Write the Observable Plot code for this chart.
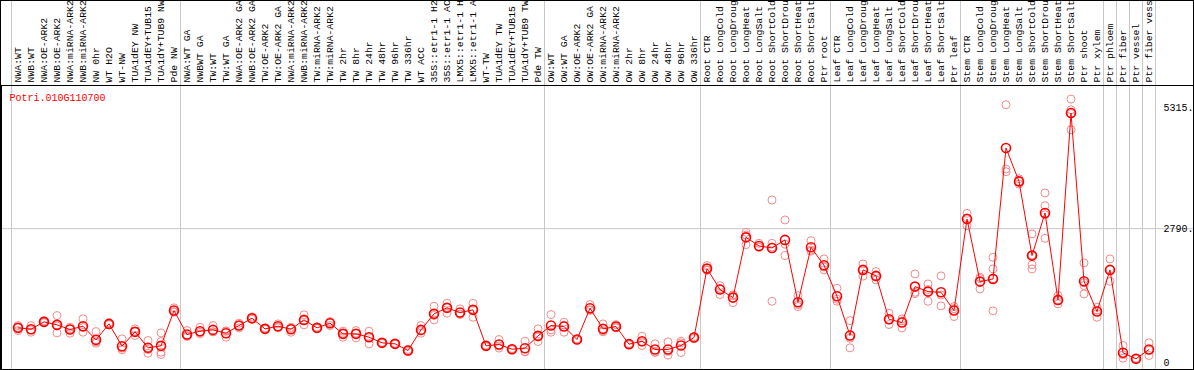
<!DOCTYPE html>
<html><head><meta charset="utf-8">
<script src="https://cdn.jsdelivr.net/npm/d3@7"></script>
<script src="https://cdn.jsdelivr.net/npm/@observablehq/plot@0.6"></script>
<style>
html,body{margin:0;padding:0;background:#fff;}
#wrap{position:relative;width:1194px;height:370px;overflow:hidden;}
#wrap svg{display:block;}
#border{position:absolute;left:0;top:0;width:1194px;height:370px;box-sizing:border-box;border:1px solid #000;pointer-events:none;}
</style></head><body><div id="wrap"><div id="border"></div></div>
<script>
const categories = [
  "NWA:WT","NWB:WT","NWA:OE-ARK2","NWB:OE-ARK2","NWA:miRNA-ARK2","NWB:miRNA-ARK2","NW 0hr","WT H2O","WT-NW","TUA1dEY NW","TUA1dEY+TUB15","TUA1dY+TUB9 NW","Pde NW",
  "NWA:WT GA","NWBWT GA","TW:WT","TW:WT GA","NWA:OE-ARK2 GA","NWB:OE-ARK2 GA","TW:OE-ARK2","TW:OE-ARK2 GA","NWA:miRNA-ARK2","NWB:miRNA-ARK2","TW:miRNA-ARK2","TW:miRNA-ARK2","TW 2hr","TW 8hr","TW 24hr","TW 48hr","TW 96hr","TW 336hr","WT ACC","35S::etr1-1 H2","35S::etr1-1 AC","LMX5::etr1-1 H","LMX5::etr1-1 A","WT-TW","TUA1dEY TW","TUA1dEY+TUB15","TUA1dY+TUB9 TW","Pde TW",
  "OW:WT","OW:WT GA","OW:OE-ARK2","OW:OE-ARK2 GA","OW:miRNA-ARK2","OW:miRNA-ARK2","OW 2hr","OW 8hr","OW 24hr","OW 48hr","OW 96hr","OW 336hr",
  "Root CTR","Root LongCold","Root LongDroug","Root LongHeat","Root LongSalt","Root ShortCold","Root ShortDrou","Root ShortHeat","Root ShortSalt","Ptr root",
  "Leaf CTR","Leaf LongCold","Leaf LongDroug","Leaf LongHeat","Leaf LongSalt","Leaf ShortCold","Leaf ShortDrou","Leaf ShortHeat","Leaf ShortSalt","Ptr leaf",
  "Stem CTR","Stem LongCold","Stem LongDroug","Stem LongHeat","Stem LongSalt","Stem ShortCold","Stem ShortDrou","Stem ShortHeat","Stem ShortSalt","Ptr shoot","Ptr xylem",
  "Ptr phloem","Ptr fiber","Ptr vessel","Ptr fiber vess"
];
const groupSizes = [13,28,12,10,10,11,1,1,1,1];
const means = [
  722,694,847,785,687,756,472,805,340,639,306,347,1083,
  583,652,680,611,770,923,701,756,694,888,722,819,597,597,527,410,389,250,680,1014,1139,1041,1097,347,375,277,298,555,
  770,750,479,1131,701,750,382,444,271,271,354,520,
  1957,1520,1353,2609,2429,2388,2555,1256,2401,2026,
  1381,562,1930,1805,902,833,1582,1478,1464,1083,
  2992,1686,1742,4470,3775,2228,3117,1305,5199,1693,1062,
  1930,202,77,271
];
const replicates = [
  [770,666,730],[770,631,680],[870,830,840],[978,618,760],[735,611,700],[910,631,730],[645,402,430],[830,790,800],[493,264,300],[701,562,650],[458,194,270],[618,437,215,167],[1139,1048,1060],
  [666,541,560],[735,597,630],[770,640,640],[527,650,660],[819,722,770],[950,900,920],[720,690,700],[805,722,740],[735,631,710],[993,785,880],[740,710,715],[854,770,830],[527,652,610],[666,513,610],[652,389,540],[420,400,410],[400,380,390],[270,230,250],[770,611,660],[1172,888,980],[1235,1027,1150],[1117,1013,1000],[1235,943,1110],[360,330,350],[479,300,345],[290,265,275],[444,229,220],[701,437,530],
  [999,631,680],[839,631,780],[490,470,480],[1208,1100,1085],[805,640,660],[790,720,740],[395,370,380],[548,354,430],[389,215,210],[430,153,230],[444,208,410],[540,500,520],
  [2020,1930,1920],[1603,1416,1540],[1249,1400,1410],[2713,2457,2657],[2484,2400,2403],[3387,1276,2484,2405],[2971,2228,2466],[1395,1166,1207],[2540,2320,2343],[2159,1930,1990],
  [1547,1276,1320],[874,306,506],[2055,1800,1935],[1895,1721,1800],[1027,791,888],[909,722,868],[1847,1464,1435],[1638,1276,1520],[1805,1180,1407],[1166,958,1125],
  [3109,2852,3015],[1776,1534,1748],[2193,1951,1076,1748],[5372,4033,3977],[3830,3720,3775],[2680,2040,1951,2240],[3533,3269,2588,3078],[1395,1222,1300],[5490,5268,4851,5190],[2076,1603,1430,1663],[1152,943,1090],
  [2159,1693,1940],[354,90,160],[90,70,72],[410,146,257]
];
const yTicks = [0, 2790, 5315];
const yTickLabels = ["0", "2790.", "5315."];
const geneId = "Potri.010G110700";

const rows = means.map((m, i) => ({i, cat: categories[i], mean: m}));
const repRows = replicates.flatMap((r, i) => r.map(v => ({i, v})));
let acc = 0;
const bounds = [-0.5];
for (const s of groupSizes) { acc += s; bounds.push(acc - 0.5); }

const chart = Plot.plot({
  width: 1194, height: 370,
  marginTop: 85, marginBottom: 1, marginLeft: 1, marginRight: 1,
  x: {type: "linear", domain: [-0.5, categories.length - 0.5], range: [11, 1155], axis: null},
  y: {type: "linear", domain: [0, 5315], range: [362, 107], axis: null},
  style: {background: "white", fontFamily: "Liberation Mono"},
  marks: [
    Plot.ruleY([2790], {stroke: "#c8c8c8"}),
    Plot.ruleX(bounds, {stroke: "#c8c8c8", insetTop: -85}),
    Plot.frame({stroke: "#000"}),
    Plot.dot(repRows, {x: "i", y: "v", r: 4, stroke: "#f08c8c", strokeWidth: 1}),
    Plot.line(rows, {x: "i", y: "mean", stroke: "#ff0000", strokeWidth: 1}),
    Plot.dot(rows, {x: "i", y: "mean", r: 4.5, stroke: "#ff0000", strokeWidth: 1.6}),
    Plot.text(rows, {x: "i", text: "cat", frameAnchor: "top", rotate: -90, textAnchor: "start", lineAnchor: "middle", dy: -3, fontSize: 9.8, fill: "black"}),
    Plot.text([geneId], {text: d => d, frameAnchor: "top-left", dx: 8, dy: 12, textAnchor: "start", lineAnchor: "middle", fill: "#ff0000", fontSize: 10}),
    Plot.text(yTicks, {y: d => d, text: (d, i) => yTickLabels[i], frameAnchor: "right", textAnchor: "start", dx: -30, lineAnchor: "middle", fontSize: 10, fill: "black"})
  ]
});
document.getElementById("wrap").prepend(chart);
</script></body></html>
